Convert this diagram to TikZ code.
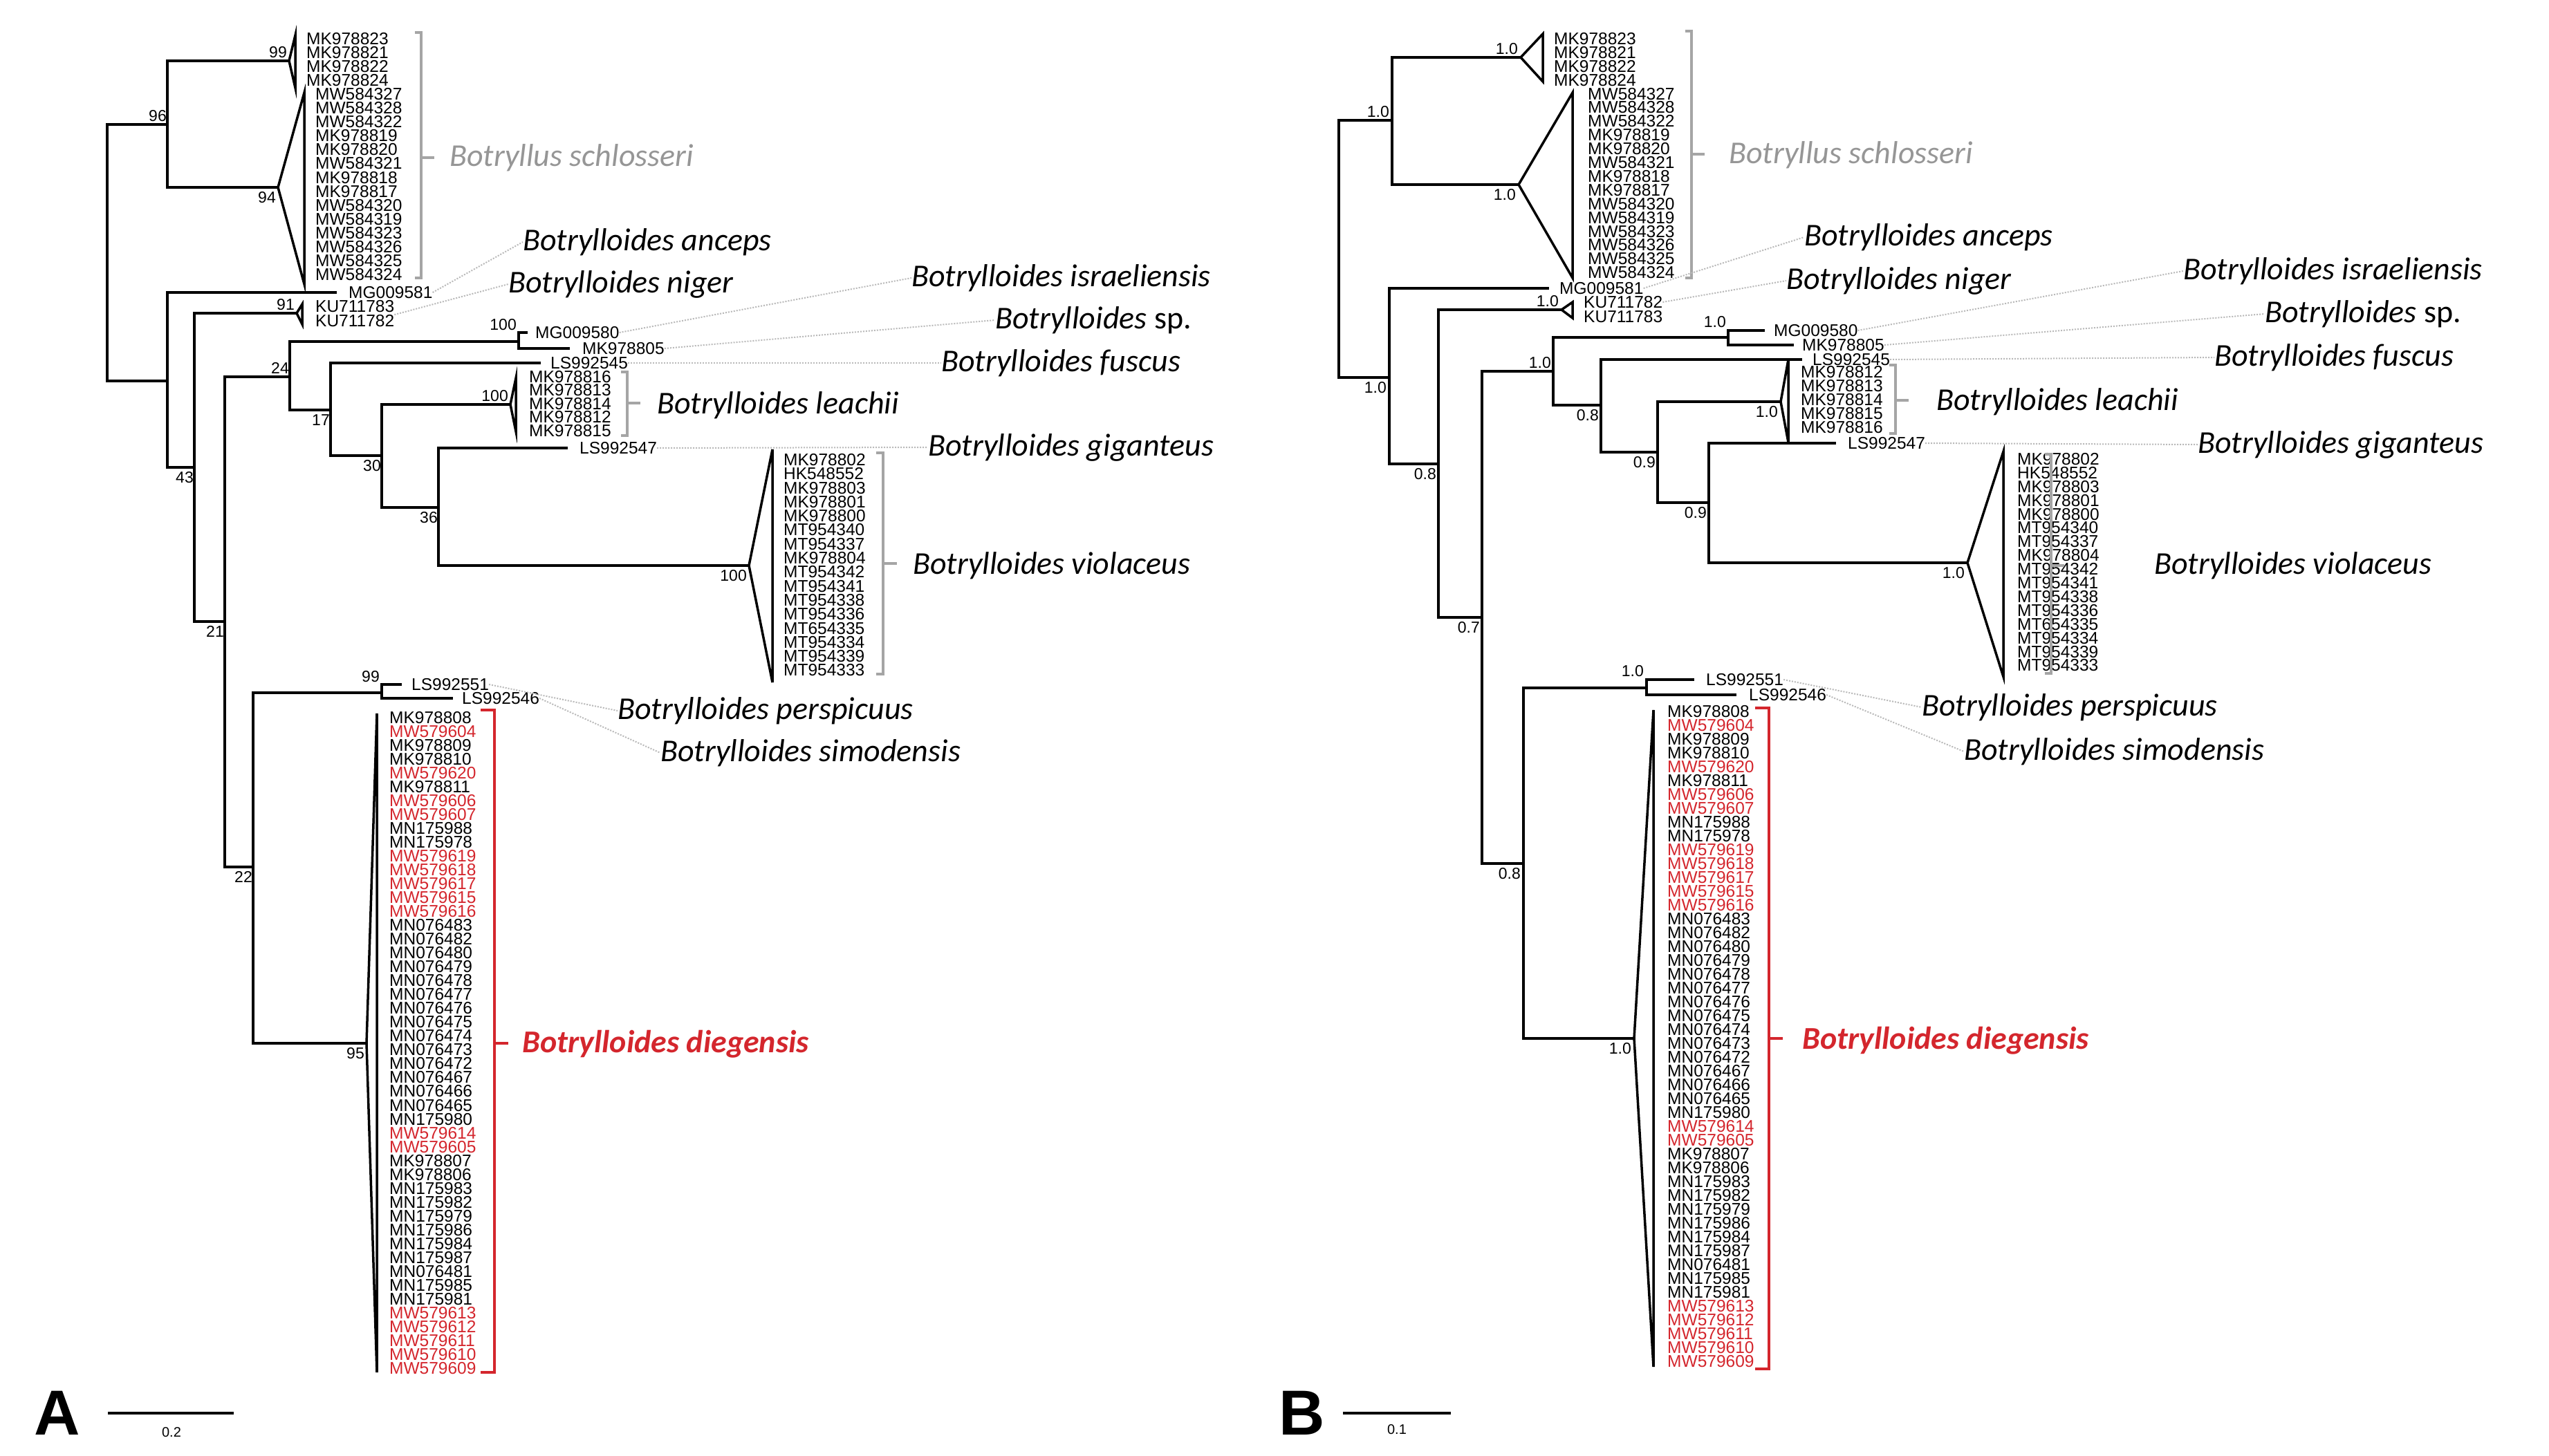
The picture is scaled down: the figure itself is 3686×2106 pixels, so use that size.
\documentclass[tikz,border=0pt]{standalone}
\usepackage{fontspec}
\setmainfont{Liberation Sans}
\newfontfamily\spfont{Carlito}
\definecolor{ck}{RGB}{0,0,0}
\definecolor{cr}{RGB}{212,38,45}
\definecolor{spgray}{RGB}{150,150,150}
\definecolor{brgray}{RGB}{165,165,165}
\definecolor{ldgray}{RGB}{185,185,185}
\begin{document}
\begin{tikzpicture}[x=1pt,y=-1pt,
  br/.style={line width=4.5pt,line cap=rect,line join=miter},
  brR/.style={line width=4pt,line cap=rect,line join=miter},
  tri/.style={line width=3.5pt,line join=miter},
  tid/.style={anchor=west,inner sep=0pt,font=\fontsize{24.5}{20}\selectfont},
  bs/.style={inner sep=1pt,font=\fontsize{23}{23}\selectfont},
  sp/.style={anchor=west,inner sep=0pt,font=\spfont\itshape\fontsize{46}{46}\selectfont},
  gbr/.style={brgray,line width=3.5pt},
  rbr/.style={cr,line width=4pt},
  ld/.style={ldgray,line width=2pt,dotted},
  lab/.style={inner sep=0pt,font=\bfseries\fontsize{92}{92}\selectfont},
  sc/.style={inner sep=0pt,font=\fontsize{20}{20}\selectfont}]
\useasboundingbox[fill=white] (0,0) rectangle (3686,2106);

% ================= PANEL A =================
\draw[br] (155,180)--(155,551) (155,180)--(242,180) (242,88)--(242,271)
  (242,88)--(418,88) (242,271)--(402,271)
  (155,551)--(242,551) (242,423)--(242,676) (242,423)--(485,423)
  (242,676)--(281,676) (281,453)--(281,899) (281,453)--(429,453)
  (281,899)--(325,899) (325,545)--(325,1254) (325,545)--(419,545)
  (419,494)--(419,593) (419,494)--(750,494) (750,481)--(750,504)
  (750,481)--(761,481) (750,504)--(822,504) (419,593)--(478,593)
  (478,525)--(478,659) (478,525)--(780,525) (478,659)--(552,659)
  (552,585)--(552,734) (552,585)--(738,585) (552,734)--(634,734)
  (634,648)--(634,818) (634,648)--(819,648) (634,818)--(1083,818)
  (325,1254)--(366,1254) (366,1002)--(366,1509) (366,1002)--(552,1002)
  (552,990)--(552,1010) (552,990)--(579,990) (552,1010)--(653,1010)
  (366,1509)--(530,1509);
\draw[tri] (418,88)--(427,51)--(427,127)--cycle;
\draw[tri] (402,271)--(440,134)--(440,411)--cycle;
\draw[tri] (429,453)--(437,440)--(437,469)--cycle;
\draw[tri] (738,585)--(746,547)--(746,624)--cycle;
\draw[tri] (1083,818)--(1117,650)--(1117,987)--cycle;
\draw[tri] (530,1509)--(545,1032)--(545,1985)--cycle;

\node[bs,anchor=south east] (a96) at (242,177) {96};
\node[bs,anchor=south east] (a99) at (416,85) {99};
\node[bs,anchor=north east] (a94) at (400,276) {94};
\node[bs,anchor=south east] (a91) at (427,450) {91};
\node[bs,anchor=north east] (a43) at (281,681) {43};
\node[bs,anchor=north east] (a21) at (325,904) {21};
\node[bs,anchor=south east] (a24) at (419,542) {24};
\node[bs,anchor=south east] (a100f) at (748,479) {100};
\node[bs,anchor=north east] (a17) at (478,598) {17};
\node[bs,anchor=north east] (a30) at (552,664) {30};
\node[bs,anchor=south east] (a100l) at (736,582) {100};
\node[bs,anchor=north east] (a36) at (634,739) {36};
\node[bs,anchor=north east] (a100v) at (1081,823) {100};
\node[bs,anchor=north east] (a22) at (366,1259) {22};
\node[bs,anchor=south east] (a99p) at (550,988) {99};
\node[bs,anchor=north east] (a95) at (528,1514) {95};

\foreach \t [count=\i from 0] in {MK978823,MK978821,MK978822,MK978824}
  \node[tid] (as\i) at (443,56+\i*20.06) {\t};
\foreach \t [count=\i from 4] in {MW584327,MW584328,MW584322,MK978819,MK978820,MW584321,MK978818,MK978817,MW584320,MW584319,MW584323,MW584326,MW584325,MW584324}
  \node[tid] (as\i) at (456,56+\i*20.06) {\t};
\node[tid] (aMG581) at (504,423) {MG009581};
\node[tid] (aKU783) at (456,443) {KU711783};
\node[tid] (aKU782) at (456,464) {KU711782};
\node[tid] (aMG580) at (774,481) {MG009580};
\node[tid] (aMK805) at (842,504) {MK978805};
\node[tid] (aLS545) at (796,525) {LS992545};
\foreach \t [count=\i from 0] in {MK978816,MK978813,MK978814,MK978812,MK978815}
  \node[tid] (al\i) at (765,545+\i*19.5) {\t};
\node[tid] (aLS547) at (838,648) {LS992547};
\foreach \t [count=\i from 0] in {MK978802,HK548552,MK978803,MK978801,MK978800,MT954340,MT954337,MK978804,MT954342,MT954341,MT954338,MT954336,MT654335,MT954334,MT954339,MT954333}
  \node[tid] (av\i) at (1133,665+\i*20.3) {\t};
\node[tid] (aLS551) at (595,990) {LS992551};
\node[tid] (aLS546) at (668,1010) {LS992546};
\foreach \c/\t [count=\i from 0] in {k/MK978808,r/MW579604,k/MK978809,k/MK978810,r/MW579620,k/MK978811,r/MW579606,r/MW579607,k/MN175988,k/MN175978,r/MW579619,r/MW579618,r/MW579617,r/MW579615,r/MW579616,k/MN076483,k/MN076482,k/MN076480,k/MN076479,k/MN076478,k/MN076477,k/MN076476,k/MN076475,k/MN076474,k/MN076473,k/MN076472,k/MN076467,k/MN076466,k/MN076465,k/MN175980,r/MW579614,r/MW579605,k/MK978807,k/MK978806,k/MN175983,k/MN175982,k/MN175979,k/MN175986,k/MN175984,k/MN175987,k/MN076481,k/MN175985,k/MN175981,r/MW579613,r/MW579612,r/MW579611,r/MW579610,r/MW579609}
  \node[tid,text=c\c] (ad\i) at (563,1038+\i*20.02) {\t};

\draw[gbr] (600,47)--(609,47)--(609,402)--(600,402) (609,228)--(628,228);
\draw[gbr] (898,538)--(907,538)--(907,630)--(898,630) (907,583)--(926,583);
\draw[gbr] (1267,655)--(1277,655)--(1277,975)--(1267,975) (1277,815)--(1297,815);
\draw[rbr] (695,1027)--(715,1027)--(715,1985)--(695,1985) (715,1509)--(735,1509);

\node[sp,text=spgray] (aSch) at (650,228) {Botryllus schlosseri};
\node[sp] (aAnc) at (756,350) {Botrylloides anceps};
\node[sp] (aNig) at (735,411) {Botrylloides niger};
\node[sp] (aIsr) at (1318,402) {Botrylloides israeliensis};
\node[sp] (aSp) at (1439,463) {Botrylloides \upshape sp.};
\node[sp] (aFus) at (1361,525) {Botrylloides fuscus};
\node[sp] (aLea) at (950,586) {Botrylloides leachii};
\node[sp] (aGig) at (1342,647) {Botrylloides giganteus};
\node[sp] (aVio) at (1320,818) {Botrylloides violaceus};
\node[sp] (aPer) at (893,1028) {Botrylloides perspicuus};
\node[sp] (aSim) at (955,1089) {Botrylloides simodensis};
\node[sp,text=cr,font=\spfont\bfseries\itshape\fontsize{46}{46}\selectfont] (aDie) at (755,1510) {Botrylloides diegensis};

\draw[ld] (aMG581.east)--(aAnc.west);
\draw[ld] (aKU782.north east)--(aNig.west);
\draw[ld] (aMG580.east)--(aIsr.west);
\draw[ld] (aMK805.east)--(aSp.west);
\draw[ld] (aLS545.east)--(aFus.west);
\draw[ld] (aLS547.east)--(aGig.west);
\draw[ld] (aLS551.east)--(aPer.west);
\draw[ld] (aLS546.east)--(aSim.west);

\node[lab] (lA) at (83,2044) {A};
\coordinate (sa1) at (156,2044); \coordinate (sa2) at (338,2044);
\draw[line width=4pt] (sa1)--(sa2);
\node[sc] (sA) at (248,2072) {0.2};

% ================= PANEL B =================
\draw[brR] (1936,174)--(1936,546) (1936,174)--(2013,174) (2013,83)--(2013,267)
  (2013,83)--(2199,83) (2013,267)--(2196,267)
  (1936,546)--(2009,546) (2009,417)--(2009,671) (2009,417)--(2238,417)
  (2009,671)--(2080,671) (2080,448)--(2080,893) (2080,448)--(2258,448)
  (2080,893)--(2143,893) (2143,537)--(2143,1249) (2143,537)--(2246,537)
  (2246,488)--(2246,586) (2246,488)--(2499,488) (2499,478)--(2499,499)
  (2499,478)--(2550,478) (2499,499)--(2592,499) (2246,586)--(2315,586)
  (2315,520)--(2315,654) (2315,520)--(2604,520) (2315,654)--(2397,654)
  (2397,581)--(2397,727) (2397,581)--(2575,581) (2397,727)--(2471,727)
  (2471,641)--(2471,814) (2471,641)--(2653,641) (2471,814)--(2845,814)
  (2143,1249)--(2203,1249) (2203,995)--(2203,1502) (2203,995)--(2381,995)
  (2381,983)--(2381,1005) (2381,983)--(2448,983) (2381,1005)--(2509,1005)
  (2203,1502)--(2363,1502);
\draw[tri] (2199,83)--(2231,49)--(2231,118)--cycle;
\draw[tri] (2196,267)--(2274,134)--(2274,402)--cycle;
\draw[tri] (2258,448)--(2274,437)--(2274,460)--cycle;
\draw[tri] (2575,581)--(2586,520)--(2586,640)--cycle;
\draw[tri] (2845,814)--(2897,653)--(2897,979)--cycle;
\draw[tri] (2363,1502)--(2391,1027)--(2391,1977)--cycle;

\node[bs,anchor=south east] (b1) at (2010,171) {1.0};
\node[bs,anchor=south east] (b2) at (2196,80) {1.0};
\node[bs,anchor=north east] (b3) at (2193,272) {1.0};
\node[bs,anchor=north east] (b4) at (2006,551) {1.0};
\node[bs,anchor=north east] (b5) at (2078,676) {0.8};
\node[bs,anchor=south east] (b6) at (2255,445) {1.0};
\node[bs,anchor=north east] (b7) at (2141,898) {0.7};
\node[bs,anchor=south east] (b8) at (2244,534) {1.0};
\node[bs,anchor=south east] (b9) at (2497,475) {1.0};
\node[bs,anchor=north east] (b10) at (2313,591) {0.8};
\node[bs,anchor=north east] (b11) at (2395,659) {0.9};
\node[bs,anchor=north east] (b12) at (2572,586) {1.0};
\node[bs,anchor=north east] (b13) at (2469,732) {0.9};
\node[bs,anchor=north east] (b14) at (2842,819) {1.0};
\node[bs,anchor=north east] (b15) at (2200,1254) {0.8};
\node[bs,anchor=south east] (b16) at (2378,980) {1.0};
\node[bs,anchor=north east] (b17) at (2360,1507) {1.0};

\foreach \t [count=\i from 0] in {MK978823,MK978821,MK978822,MK978824}
  \node[tid] (bs\i) at (2247,56+\i*19.9) {\t};
\foreach \t [count=\i from 4] in {MW584327,MW584328,MW584322,MK978819,MK978820,MW584321,MK978818,MK978817,MW584320,MW584319,MW584323,MW584326,MW584325,MW584324}
  \node[tid] (bs\i) at (2296,56+\i*19.9) {\t};
\node[tid] (bMG581) at (2255,417) {MG009581};
\node[tid] (bKU782) at (2290,437) {KU711782};
\node[tid] (bKU783) at (2290,458) {KU711783};
\node[tid] (bMG580) at (2565,478) {MG009580};
\node[tid] (bMK805) at (2606,499) {MK978805};
\node[tid] (bLS545) at (2621,520) {LS992545};
\foreach \t [count=\i from 0] in {MK978812,MK978813,MK978814,MK978815,MK978816}
  \node[tid] (bl\i) at (2604,538+\i*20) {\t};
\node[tid] (bLS547) at (2672,641) {LS992547};
\foreach \t [count=\i from 0] in {MK978802,HK548552,MK978803,MK978801,MK978800,MT954340,MT954337,MK978804,MT954342,MT954341,MT954338,MT954336,MT654335,MT954334,MT954339,MT954333}
  \node[tid] (bv\i) at (2917,664+\i*19.9) {\t};
\node[tid] (bLS551) at (2467,983) {LS992551};
\node[tid] (bLS546) at (2529,1005) {LS992546};
\foreach \c/\t [count=\i from 0] in {k/MK978808,r/MW579604,k/MK978809,k/MK978810,r/MW579620,k/MK978811,r/MW579606,r/MW579607,k/MN175988,k/MN175978,r/MW579619,r/MW579618,r/MW579617,r/MW579615,r/MW579616,k/MN076483,k/MN076482,k/MN076480,k/MN076479,k/MN076478,k/MN076477,k/MN076476,k/MN076475,k/MN076474,k/MN076473,k/MN076472,k/MN076467,k/MN076466,k/MN076465,k/MN175980,r/MW579614,r/MW579605,k/MK978807,k/MK978806,k/MN175983,k/MN175982,k/MN175979,k/MN175986,k/MN175984,k/MN175987,k/MN076481,k/MN175985,k/MN175981,r/MW579613,r/MW579612,r/MW579611,r/MW579610,r/MW579609}
  \node[tid,text=c\c] (bd\i) at (2411,1029+\i*20.0) {\t};

\draw[gbr] (2437,45)--(2446,45)--(2446,402)--(2437,402) (2446,223)--(2465,223);
\draw[gbr] (2732,528)--(2741,528)--(2741,627)--(2732,627) (2741,579)--(2760,579);
\draw[gbr] (2957,657)--(2966,657)--(2966,974)--(2957,974) (2966,818)--(2985,818);
\draw[rbr] (2538,1024)--(2558,1024)--(2558,1980)--(2538,1980) (2558,1502)--(2578,1502);

\node[sp,text=spgray] (bSch) at (2500,224) {Botryllus schlosseri};
\node[sp] (bAnc) at (2609,343) {Botrylloides anceps};
\node[sp] (bNig) at (2583,406) {Botrylloides niger};
\node[sp] (bIsr) at (3157,392) {Botrylloides israeliensis};
\node[sp] (bSp) at (3275,454) {Botrylloides \upshape sp.};
\node[sp] (bFus) at (3202,517) {Botrylloides fuscus};
\node[sp] (bLea) at (2800,581) {Botrylloides leachii};
\node[sp] (bGig) at (3178,643) {Botrylloides giganteus};
\node[sp] (bVio) at (3115,818) {Botrylloides violaceus};
\node[sp] (bPer) at (2779,1023) {Botrylloides perspicuus};
\node[sp] (bSim) at (2840,1087) {Botrylloides simodensis};
\node[sp,text=cr,font=\spfont\bfseries\itshape\fontsize{46}{46}\selectfont] (bDie) at (2606,1505) {Botrylloides diegensis};

\draw[ld] (bMG581.east)--(bAnc.west);
\draw[ld] (bKU782.east)--(bNig.west);
\draw[ld] (bMG580.east)--(bIsr.west);
\draw[ld] (bMK805.east)--(bSp.west);
\draw[ld] (bLS545.east)--(bFus.west);
\draw[ld] (bLS547.east)--(bGig.west);
\draw[ld] (bLS551.east)--(bPer.west);
\draw[ld] (bLS546.east)--(bSim.west);

\node[lab] (lB) at (1883,2044) {B};
\coordinate (sb1) at (1942,2044); \coordinate (sb2) at (2098,2044);
\draw[line width=4pt] (sb1)--(sb2);
\node[sc] (sB) at (2020,2068) {0.1};
\end{tikzpicture}
\end{document}
